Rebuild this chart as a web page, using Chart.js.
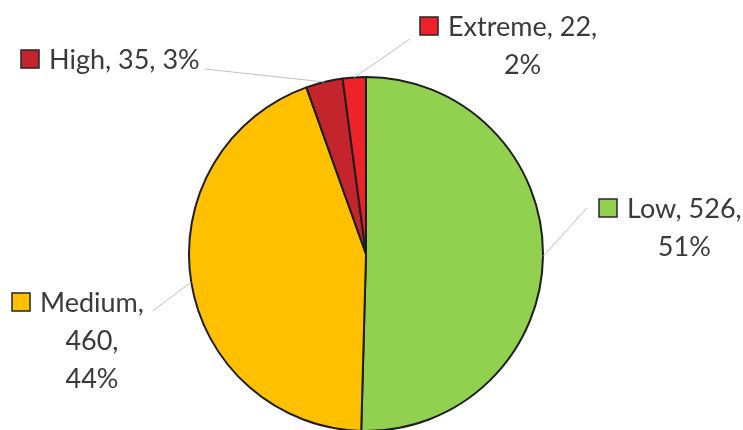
<!DOCTYPE html>
<html>
<head>
<meta charset="utf-8">
<script src="https://cdn.jsdelivr.net/npm/chart.js@4.4.1/dist/chart.umd.min.js"></script>
<style>
  html, body { margin: 0; padding: 0; background: #fff; overflow: hidden; }
  #wrap { width: 743px; height: 430px; }
</style>
</head>
<body>
<div id="wrap"><canvas id="riskChart" width="743" height="430"></canvas></div>
<script>
// data
const categories = ['Low', 'Medium', 'High', 'Extreme'];
const counts = [526, 460, 35, 22];
const percents = [51, 44, 3, 2];
const sliceColors = ['#92D050', '#FFC000', '#C4252D', '#EE2229'];

// where each data label sits (key square left, first baseline, leader start, line groups)
const labelLayout = [
    { keyX: 599, base: 218, from: [587, 208], groups: [[0, 1], [2]] },
    { keyX: 12, base: 312, from: [153, 311], groups: [[0], [1], [2]] },
    { keyX: 21, base: 69, from: [205, 69], groups: [[0, 1, 2]] },
    { keyX: 420, base: 36, from: [410, 39], groups: [[0, 1], [2]] }
];

const FONT = '27px Lato';
const LINE_H = 38;

const labelPlugin = {
    id: 'pieLabels',
    afterDatasetsDraw(chart) {
        const ctx = chart.ctx;
        const arcs = chart.getDatasetMeta(0).data;
        ctx.save();
        arcs.forEach((arc, i) => {
            const lay = labelLayout[i];
            const parts = [categories[i], String(counts[i]), percents[i] + '%'];
            const lines = lay.groups.map((g, k) => {
                const s = g.map(j => parts[j]).join(', ');
                return k < lay.groups.length - 1 ? s + ',' : s;
            });

            // leader line to the middle of the slice edge
            const p = arc.getProps(['x', 'y', 'startAngle', 'endAngle', 'outerRadius'], true);
            const mid = (p.startAngle + p.endAngle) / 2;
            const ax = p.x + Math.cos(mid) * p.outerRadius;
            const ay = p.y + Math.sin(mid) * p.outerRadius;
            ctx.strokeStyle = '#bfbfbf';
            ctx.lineWidth = 1;
            ctx.beginPath();
            ctx.moveTo(lay.from[0], lay.from[1]);
            ctx.lineTo(ax, ay);
            ctx.stroke();

            // key square
            ctx.fillStyle = sliceColors[i];
            ctx.fillRect(lay.keyX, lay.base - 19, 18, 18);
            ctx.strokeStyle = '#262626';
            ctx.lineWidth = 1.5;
            ctx.strokeRect(lay.keyX, lay.base - 19, 18, 18);

            // text lines, centred in their column
            ctx.font = FONT;
            ctx.fillStyle = '#3a3a3a';
            ctx.textAlign = 'center';
            ctx.textBaseline = 'alphabetic';
            const colLeft = lay.keyX + 28;
            const colW = Math.max(...lines.map(l => ctx.measureText(l).width));
            lines.forEach((l, k) => {
                ctx.fillText(l, colLeft + colW / 2, lay.base + k * LINE_H);
            });
        });
        ctx.restore();
    }
};

new Chart(document.getElementById('riskChart'), {
    type: 'pie',
    data: {
        labels: categories,
        datasets: [{
            data: counts,
            backgroundColor: sliceColors,
            borderColor: '#1e1e1e',
            borderWidth: 2,
            radius: 177
        }]
    },
    options: {
        responsive: false,
        animation: false,
        layout: { padding: { top: 78, bottom: 0, left: 180, right: 191 } },
        plugins: {
            legend: { display: false },
            tooltip: { enabled: false }
        }
    },
    plugins: [labelPlugin]
});
</script>
</body>
</html>
